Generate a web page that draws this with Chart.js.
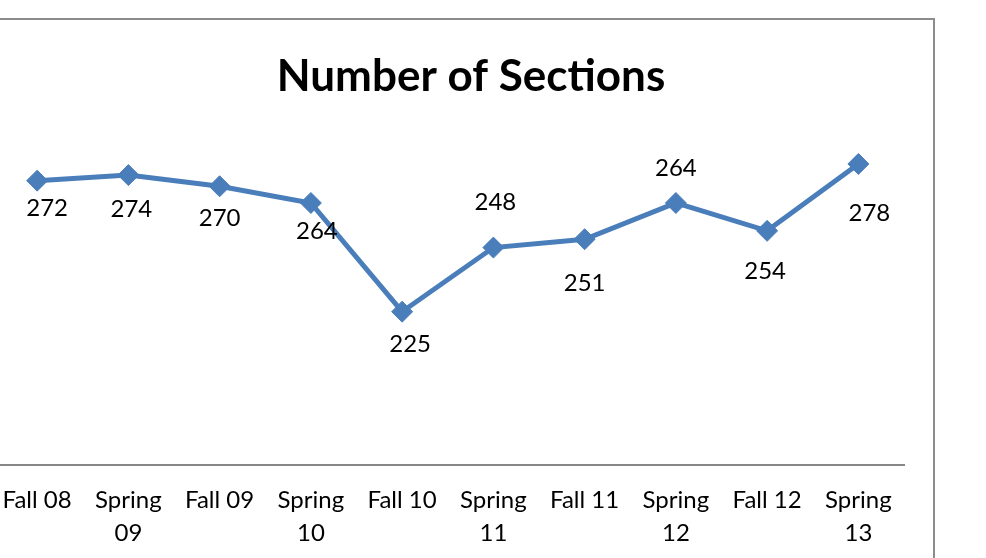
<!DOCTYPE html>
<html>
<head>
<meta charset="utf-8">
<title>Number of Sections</title>
<script src="https://cdn.jsdelivr.net/npm/chart.js@4.4.1/dist/chart.umd.min.js"></script>
<style>
  html, body { margin: 0; padding: 0; background: #fff; overflow: hidden; }
  body { width: 986px; height: 558px; position: relative; }
  /* chart frame: only top and right edges are inside the crop */
  .frame {
    position: absolute; left: -10px; top: 18px; width: 945px; height: 600px;
    border-top: 2px solid #8c8c8c; border-right: 2px solid #8c8c8c;
    box-sizing: border-box;
  }
  .chart-box { position: absolute; left: -20px; top: 0; width: 1000px; height: 558px; }
</style>
</head>
<body>
<div class="frame"></div>
<div class="chart-box"><canvas id="sectionsChart"></canvas></div>

<script>
// ── Data ──
const categories = ['Fall 08', 'Spring 09', 'Fall 09', 'Spring 10', 'Fall 10',
                    'Spring 11', 'Fall 11', 'Spring 12', 'Fall 12', 'Spring 13'];
const sections = [272, 274, 270, 264, 225, 248, 251, 264, 254, 278];
const yMin = 170;
const yMax = 290;

// label nudges (px) — the labels in the original were dragged around by hand
const labelOffsets = [[10, 28], [3, 34], [0, 32], [6, 28], [8, 33],
                      [2, -45], [0, 44], [0, -35], [-2, 40], [11, 49]];

const FONT = 'Lato, "Open Sans", sans-serif';
const LINE_BLUE = '#4A7EBB';
const CANVAS_LEFT = -20;   // .chart-box left offset

// ── Title (centered on the frame, not the plot area) ──
const titlePlugin = {
  id: 'frameTitle',
  afterDraw(chart) {
    const ctx = chart.ctx;
    ctx.save();
    ctx.font = 'bold 44px ' + FONT;
    ctx.fillStyle = '#000';
    ctx.textAlign = 'center';
    ctx.textBaseline = 'alphabetic';
    ctx.fillText('Number of Sections', 471 - CANVAS_LEFT, 91);
    ctx.restore();
  }
};

// ── Data labels ──
const valueLabels = {
  id: 'valueLabels',
  afterDatasetsDraw(chart) {
    const ctx = chart.ctx;
    const meta = chart.getDatasetMeta(0);
    ctx.save();
    ctx.font = '24px ' + FONT;
    ctx.fillStyle = '#000';
    ctx.textAlign = 'center';
    ctx.textBaseline = 'middle';
    meta.data.forEach((pt, i) => {
      const [dx, dy] = labelOffsets[i];
      ctx.fillText(String(sections[i]), pt.x + dx, pt.y + dy);
    });
    ctx.restore();
  }
};

new Chart(document.getElementById('sectionsChart'), {
  type: 'line',
  data: {
    labels: categories,
    datasets: [{
      label: 'Number of Sections',
      data: sections,
      borderColor: LINE_BLUE,
      backgroundColor: LINE_BLUE,
      borderWidth: 5,
      tension: 0,
      pointStyle: 'rectRot',
      pointRadius: 10.5,
      pointBorderWidth: 1,
      pointBackgroundColor: LINE_BLUE,
      pointBorderColor: LINE_BLUE
    }]
  },
  options: {
    responsive: true, maintainAspectRatio: false,
    animation: false,
    layout: { padding: { left: 11.35, right: 76, top: 130.5, bottom: 0 } },
    plugins: { legend: { display: false }, title: { display: false }, tooltip: { enabled: false } },
    scales: {
      x: {
        offset: true,
        grid: { display: false, drawTicks: false },
        border: { display: true, color: '#878787', width: 2 },
        ticks: {
          color: '#000', padding: 19, maxRotation: 0, autoSkip: false,
          font: { family: FONT, size: 24, lineHeight: 1.38 },
          callback: (v, i) => categories[i].startsWith('Spring') ? categories[i].split(' ') : categories[i]
        },
        afterFit: s => { s.height = 93; }
      },
      y: { display: false, min: yMin, max: yMax }
    }
  },
  plugins: [titlePlugin, valueLabels]
});
</script>
</body>
</html>
